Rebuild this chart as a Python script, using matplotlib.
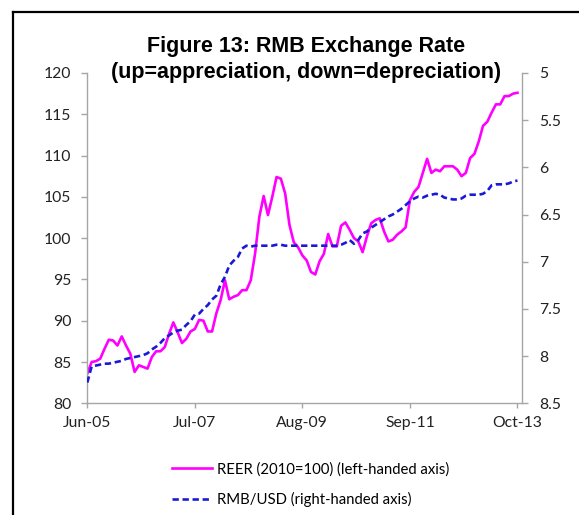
import matplotlib
matplotlib.use("Agg")
import matplotlib.pyplot as plt
from matplotlib.lines import Line2D

# monthly data, Jun-05 .. Oct-13 (101 months)
reer = [83.6, 85.0, 85.1, 85.4, 86.6, 87.7, 87.6, 87.0, 88.1, 87.0,
        86.0, 83.8, 84.6, 84.4, 84.2, 85.6, 86.3, 86.3, 86.8, 88.4,
        89.8, 88.6, 87.3, 87.8, 88.7, 89.0, 90.1, 90.0, 88.7, 88.7,
        90.9, 92.5, 94.9, 92.6, 92.9, 93.1, 93.7, 93.7, 94.9, 98.1,
        102.6, 105.1, 102.8, 105.0, 107.4, 107.2, 105.4, 101.6, 99.5, 98.9,
        97.9, 97.3, 95.9, 95.6, 97.2, 98.1, 100.5, 99.0, 99.0, 101.5,
        101.9, 101.0, 100.0, 99.6, 98.3, 100.2, 101.8, 102.2, 102.4, 100.8,
        99.6, 99.8, 100.4, 100.8, 101.3, 104.6, 105.6, 106.2, 107.9, 109.6,
        107.9, 108.3, 108.1, 108.7, 108.7, 108.7, 108.3, 107.5, 107.9, 109.7,
        110.2, 111.7, 113.6, 114.1, 115.2, 116.2, 116.2, 117.2, 117.2, 117.5,
        117.6]

rmb_usd = [8.28, 8.11, 8.10, 8.09, 8.08, 8.08, 8.07, 8.06, 8.05, 8.03,
           8.02, 8.01, 8.00, 7.99, 7.97, 7.93, 7.90, 7.86, 7.81, 7.78,
           7.75, 7.73, 7.72, 7.67, 7.63, 7.56, 7.55, 7.50, 7.46, 7.40,
           7.36, 7.24, 7.16, 7.04, 6.99, 6.95, 6.86, 6.83, 6.84, 6.83,
           6.83, 6.83, 6.83, 6.83, 6.82, 6.82, 6.83, 6.83, 6.83, 6.83,
           6.83, 6.83, 6.83, 6.83, 6.83, 6.83, 6.83, 6.83, 6.83, 6.82,
           6.80, 6.77, 6.81, 6.77, 6.70, 6.68, 6.64, 6.61, 6.58, 6.55,
           6.52, 6.50, 6.47, 6.44, 6.40, 6.36, 6.33, 6.31, 6.32, 6.30,
           6.29, 6.28, 6.29, 6.32, 6.33, 6.34, 6.34, 6.33, 6.30, 6.29,
           6.29, 6.29, 6.28, 6.25, 6.19, 6.18, 6.18, 6.18, 6.17, 6.15,
           6.14]

months = list(range(len(reer)))
xtick_pos = [0, 25, 50, 75, 100]
xtick_labels = ['Jun-05', 'Jul-07', 'Aug-09', 'Sep-11', 'Oct-13']
left_ticks = [80, 85, 90, 95, 100, 105, 110, 115, 120]
right_ticks = [5, 5.5, 6, 6.5, 7, 7.5, 8, 8.5]
right_labels = ['5', '5.5', '6', '6.5', '7', '7.5', '8', '8.5']

plt.rcParams['font.family'] = ['Lato', 'DejaVu Sans']
grey = '#a6a6a6'

fig = plt.figure(figsize=(5.79, 5.15), dpi=100, facecolor='white')
ax = fig.add_axes([0.1508, 0.2169, 0.7503, 0.6414])
ax2 = ax.twinx()

l1, = ax.plot(months, reer, color='#ff00ff', linewidth=1.9,
              label='REER (2010=100) (left-handed axis)')
l2, = ax2.plot(months, rmb_usd, color='#1a1ad6', linewidth=1.9,
               linestyle=(0, (2.4, 1.4)), label='RMB/USD (right-handed axis)')

ax.set_xlim(0, 101)
ax.set_ylim(80, 120)
ax2.set_ylim(8.5, 5)
ax.set_xticks(xtick_pos)
ax.set_xticklabels(xtick_labels)
ax.set_yticks(left_ticks)
ax2.set_yticks(right_ticks)
ax2.set_yticklabels(right_labels)

for a in (ax, ax2):
    for s in a.spines.values():
        s.set_color(grey)
        s.set_linewidth(1.0)
    a.spines['top'].set_visible(False)
ax.spines['right'].set_visible(False)
ax2.spines['left'].set_visible(False)
ax2.spines['bottom'].set_visible(False)

ax.tick_params(axis='y', length=4.5, width=1, color=grey, labelsize=11.3, pad=7, labelcolor='#222222')
ax.tick_params(axis='x', length=3.5, width=1, color=grey, labelsize=11.3, pad=6, labelcolor='#222222')
ax2.tick_params(axis='y', length=4.5, width=1, color=grey, labelsize=11.3, pad=8, labelcolor='#222222')

fig.text(0.528, 0.885, 'Figure 13: RMB Exchange Rate\n(up=appreciation, down=depreciation)',
         ha='center', va='center', fontsize=15.5, fontweight='bold',
         family='Liberation Sans', linespacing=1.3)

fig.legend([l1, l2], [l1.get_label(), l2.get_label()], loc='upper left',
           bbox_to_anchor=(172 / 579, 1 - 462 / 515), frameon=False,
           fontsize=10.7, handlelength=2.7, handletextpad=0.3,
           borderpad=0, borderaxespad=0, labelspacing=1.05)

# outer frame (top and left edges visible)
fig.add_artist(Line2D([13 / 579, 1.0], [1 - 12 / 515, 1 - 12 / 515],
                      transform=fig.transFigure, color='black', linewidth=1.6))
fig.add_artist(Line2D([13 / 579, 13 / 579], [0, 1 - 12 / 515],
                      transform=fig.transFigure, color='black', linewidth=1.6))

fig.savefig('out.png', dpi=100, facecolor='white')
